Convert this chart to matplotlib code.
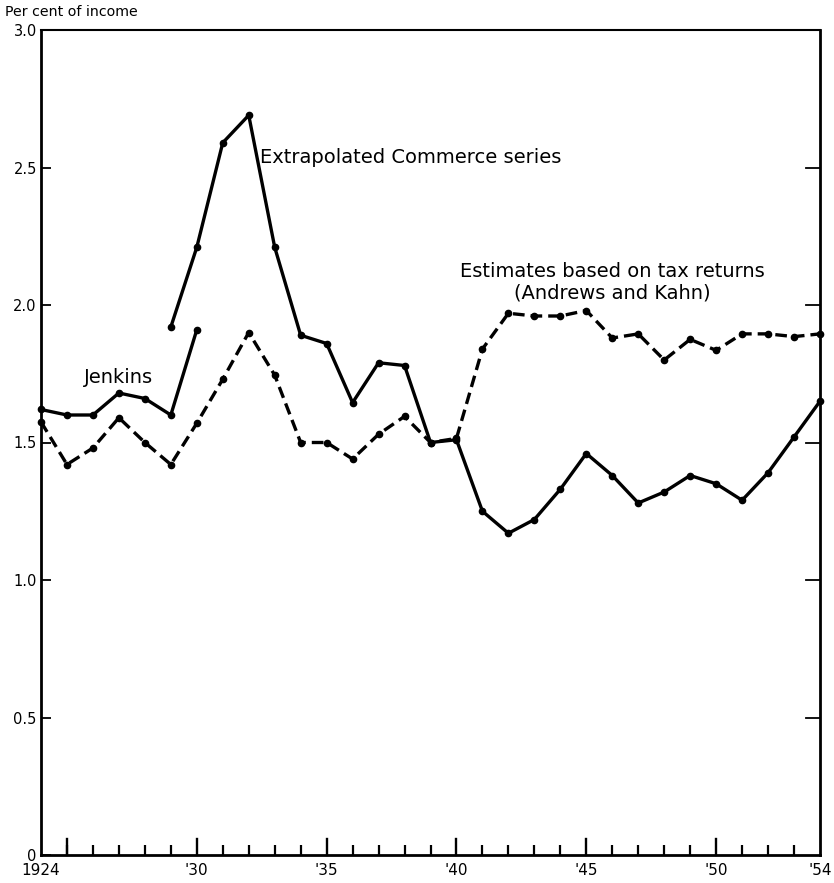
import matplotlib
matplotlib.use("Agg")
import matplotlib.pyplot as plt
from matplotlib.ticker import FixedLocator, NullFormatter

# Giving as a share of income, 1924-1954
jenkins_years = list(range(1924, 1931))
jenkins_vals = [1.62, 1.60, 1.60, 1.68, 1.66, 1.60, 1.91]

commerce_years = list(range(1929, 1955))
commerce_vals = [1.92, 2.21, 2.59, 2.69, 2.21, 1.89, 1.86, 1.645, 1.79, 1.78,
                 1.50, 1.51, 1.25, 1.17, 1.22, 1.33, 1.46, 1.38, 1.28, 1.32,
                 1.38, 1.35, 1.29, 1.39, 1.52, 1.65]

tax_years = list(range(1924, 1955))
tax_vals = [1.575, 1.42, 1.48, 1.59, 1.50, 1.42, 1.57, 1.73, 1.90, 1.745,
            1.50, 1.50, 1.44, 1.53, 1.595, 1.50, 1.515, 1.84, 1.97, 1.96,
            1.96, 1.98, 1.88, 1.895, 1.80, 1.875, 1.835, 1.895, 1.895, 1.885,
            1.895]

x_tick_pos = [1924, 1930, 1935, 1940, 1945, 1950, 1954]
x_tick_labels = ["1924", "'30", "'35", "'40", "'45", "'50", "'54"]
y_ticks = [0, 0.5, 1.0, 1.5, 2.0, 2.5, 3.0]
y_tick_labels = ["0", "0.5", "1.0", "1.5", "2.0", "2.5", "3.0"]

plt.rcParams["font.family"] = ["DejaVu Sans"]

fig = plt.figure(figsize=(8.34, 8.83), dpi=100)
ax = fig.add_axes([41 / 834, 1 - 855 / 883, (820 - 41) / 834, (855 - 30) / 883])

lw = 2.4
ax.plot(jenkins_years, jenkins_vals, color="black", lw=lw, marker="o",
        ms=4.5, clip_on=False, solid_capstyle="round")
ax.plot(commerce_years, commerce_vals, color="black", lw=lw, marker="o",
        ms=4.5, clip_on=False, solid_capstyle="round")
ax.plot(tax_years, tax_vals, color="black", lw=lw, marker="o", ms=4.5,
        linestyle=(0, (3.5, 1.8)), clip_on=False)

ax.set_xlim(1924, 1954)
ax.set_ylim(0, 3.0)

for name, s in ax.spines.items():
    s.set_linewidth(1.5 if name == "top" else 2.0)
    s.set_color("black")

# x axis: yearly inward ticks, taller every fifth year
ax.xaxis.set_major_locator(FixedLocator(x_tick_pos))
ax.set_xticklabels(x_tick_labels, fontsize=11, fontweight="medium")
ax.tick_params(axis="x", which="major", direction="in", length=0, pad=6)
minor_years = [y for y in range(1925, 1954)]
ax.xaxis.set_minor_locator(FixedLocator(minor_years))
ax.xaxis.set_minor_formatter(NullFormatter())
ax.tick_params(axis="x", which="minor", direction="in", length=7, width=1.6)
for yr in [1925, 1930, 1935, 1940, 1945, 1950]:
    ax.plot([yr, yr], [0, 0.06], color="black", lw=1.7, clip_on=False)

# y axis: labels on the left, inward ticks on both sides
ax.set_yticks(y_ticks)
ax.set_yticklabels(y_tick_labels, fontsize=10.5)
ax.tick_params(axis="y", which="major", direction="in", length=7.5,
               width=1.3, pad=3)
for yv in [0.5, 1.0, 1.5, 2.0, 2.5]:
    ax.plot([1954 - 0.55, 1954], [yv, yv], color="black", lw=1.3,
            clip_on=False)

fig.text(5 / 834, 1 - 12 / 883, "Per cent of income", fontsize=10.2,
         ha="left", va="center")

label_size = 14
ax.text(1927.0, 1.735, "Jenkins", fontsize=label_size, ha="center",
        va="center")
ax.text(1932.43, 2.535, "Extrapolated Commerce series", fontsize=label_size,
        ha="left", va="center")
ax.text(1946.0, 2.084, "Estimates based on tax returns\n(Andrews and Kahn)",
        fontsize=label_size, ha="center", va="center", linespacing=1.15)

fig.savefig("out.png", dpi=100)
